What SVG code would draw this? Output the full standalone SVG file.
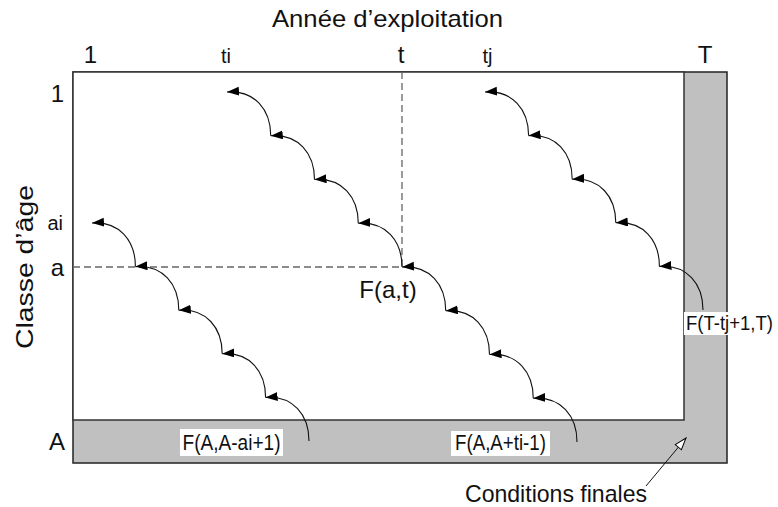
<svg xmlns="http://www.w3.org/2000/svg" width="778" height="507" viewBox="0 0 778 507">
<defs>
<style>
text{font-family:"Liberation Sans",Arial,Helvetica,sans-serif;fill:#111}
.big{font-size:24px}
.sm{font-size:20px}
.lab{font-size:22px}
.arc{fill:none;stroke:#111;stroke-width:1.1;marker-end:url(#ah)}
.dash{fill:none;stroke:#666;stroke-width:1.3;stroke-dasharray:7,4}
.box{fill:#fff;stroke:none}
</style>
<marker id="ah" markerUnits="userSpaceOnUse" markerWidth="13" markerHeight="10" refX="12" refY="4.5" orient="auto">
<path d="M0,0 L12,4.5 L0,9 z" fill="#000"/>
</marker>
<marker id="oh" markerUnits="userSpaceOnUse" markerWidth="15" markerHeight="12" refX="13" refY="5" orient="auto">
<path d="M1,1 L13,5 L1,9 z" fill="#fff" stroke="#000" stroke-width="1"/>
</marker>
</defs>
<rect width="778" height="507" fill="#fff"/>
<g id="frame">
<rect x="73" y="72" width="654" height="391" fill="#c0c0c0" stroke="#222" stroke-width="1.5"/>
<rect x="73" y="72" width="611" height="348" fill="#fff" stroke="#333" stroke-width="1.5"/>
</g>
<g id="guides">
<path class="dash" d="M73,267 H402 V72"/>
</g>
<g id="axis-labels">
<text class="big" x="387.5" y="27" text-anchor="middle" textLength="231" lengthAdjust="spacingAndGlyphs">Année d’exploitation</text>
<text class="big" x="90.5" y="63" text-anchor="middle">1</text>
<text class="sm" x="226" y="63" text-anchor="middle">ti</text>
<text class="big" x="401" y="63" text-anchor="middle">t</text>
<text class="sm" x="487.5" y="63" text-anchor="middle">tj</text>
<text class="big" x="705" y="63" text-anchor="middle">T</text>
<text class="big" x="64" y="102" text-anchor="end">1</text>
<text class="sm" x="63" y="230" text-anchor="end">ai</text>
<text class="big" x="64" y="276" text-anchor="end">a</text>
<text class="big" x="65" y="450" text-anchor="end">A</text>
<text class="big" transform="translate(33,267) rotate(-90)" text-anchor="middle" textLength="164" lengthAdjust="spacingAndGlyphs">Classe d’âge</text>
</g>
<g id="connectors">
<path class="arc" d="M309,441 C309,415 293,395.4 265.6,397.4"/>
<path class="arc" d="M265.6,397.4 C265.6,371.4 249.6,351.8 222.2,353.8"/>
<path class="arc" d="M222.2,353.8 C222.2,327.8 206.2,308.2 178.8,310.2"/>
<path class="arc" d="M178.8,310.2 C178.8,284.2 162.8,264.6 135.4,266.6"/>
<path class="arc" d="M135.4,266.6 C135.4,240.6 119.4,221 92,223"/>
<path class="arc" d="M577,442 C577,416 561,396.25 533.25,398.25"/>
<path class="arc" d="M533.25,398.25 C533.25,372.25 517.25,352.5 489.5,354.5"/>
<path class="arc" d="M489.5,354.5 C489.5,328.5 473.5,308.75 445.75,310.75"/>
<path class="arc" d="M445.75,310.75 C445.75,284.75 429.75,265 402,267"/>
<path class="arc" d="M402,267 C402,241 386,221.25 358.25,223.25"/>
<path class="arc" d="M358.25,223.25 C358.25,197.25 342.25,177.5 314.5,179.5"/>
<path class="arc" d="M314.5,179.5 C314.5,153.5 298.5,133.75 270.75,135.75"/>
<path class="arc" d="M270.75,135.75 C270.75,109.75 254.75,90 227,92"/>
<path class="arc" d="M703,310 C703,284 687,264.4 659.4,266.4"/>
<path class="arc" d="M659.4,266.4 C659.4,240.4 643.4,220.8 615.8,222.8"/>
<path class="arc" d="M615.8,222.8 C615.8,196.8 599.8,177.2 572.2,179.2"/>
<path class="arc" d="M572.2,179.2 C572.2,153.2 556.2,133.6 528.6,135.6"/>
<path class="arc" d="M528.6,135.6 C528.6,109.6 512.6,90 485,92"/>
<path d="M646,486 L686,438" fill="none" stroke="#111" stroke-width="1" marker-end="url(#oh)"/>
</g>
<g id="node-fat">
<text class="big" x="388" y="298" text-anchor="middle">F(a,t)</text>
</g>
<g id="node-fa1">
<rect class="box" x="180" y="429" width="103" height="27"/>
<text class="lab" x="231.5" y="450" text-anchor="middle" textLength="98" lengthAdjust="spacingAndGlyphs">F(A,A-ai+1)</text>
</g>
<g id="node-fa2">
<rect class="box" x="451" y="431" width="99" height="25"/>
<text class="lab" x="500.5" y="450" text-anchor="middle" textLength="91" lengthAdjust="spacingAndGlyphs">F(A,A+ti-1)</text>
</g>
<g id="node-ft">
<rect class="box" x="684" y="312" width="91" height="23"/>
<text x="686" y="330" font-size="19.5" textLength="87" lengthAdjust="spacingAndGlyphs">F(T-tj+1,T)</text>
</g>
<g id="node-cf">
<text class="big" x="465" y="502" textLength="182" lengthAdjust="spacingAndGlyphs">Conditions finales</text>
</g>
</svg>
